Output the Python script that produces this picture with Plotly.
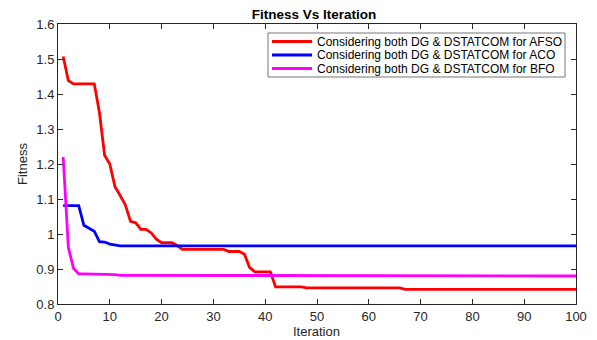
import plotly.graph_objects as go

iterations = list(range(1, 101))

afso_points = {1: 1.507, 2: 1.438, 3: 1.429, 4: 1.429, 5: 1.429, 6: 1.429, 7: 1.429,
               8: 1.347, 9: 1.225, 10: 1.200, 11: 1.135, 12: 1.110, 13: 1.083,
               14: 1.036, 15: 1.032, 16: 1.013, 17: 1.013, 18: 1.003, 19: 0.985,
               20: 0.975, 21: 0.975, 22: 0.975, 23: 0.967, 24: 0.956}
afso_tail = [(25, 32, 0.956), (33, 35, 0.950), (36, 36, 0.942), (37, 37, 0.904),
             (38, 41, 0.892), (42, 47, 0.849), (48, 66, 0.846), (67, 100, 0.842)]

aco_points = {1: 1.081, 2: 1.081, 3: 1.081, 4: 1.081, 5: 1.025, 6: 1.016, 7: 1.008,
              8: 0.978, 9: 0.977, 10: 0.971, 11: 0.968}
aco_tail = [(12, 100, 0.966)]

bfo_points = {1: 1.220, 2: 0.961, 3: 0.902}
bfo_tail = [(4, 9, 0.886), (10, 11, 0.884), (12, 47, 0.882), (48, 100, 0.880)]


def build(points, tail):
    vals = dict(points)
    for a, b, v in tail:
        for i in range(a, b + 1):
            vals[i] = v
    return [vals[i] for i in iterations]


afso = build(afso_points, afso_tail)
aco = build(aco_points, aco_tail)
bfo = build(bfo_points, bfo_tail)

series_names = ["Considering both DG & DSTATCOM for AFSO",
                "Considering both DG & DSTATCOM for ACO",
                "Considering both DG & DSTATCOM for BFO"]
series_colors = ["#FF0000", "#0000FF", "#FF00FF"]

x_ticks = [0, 10, 20, 30, 40, 50, 60, 70, 80, 90, 100]
y_ticks = [0.8, 0.9, 1.0, 1.1, 1.2, 1.3, 1.4, 1.5, 1.6]
y_ticktext = ["0.8", "0.9", "1", "1.1", "1.2", "1.3", "1.4", "1.5", "1.6"]

fig = go.Figure()
for name, ys, col in zip(series_names, [afso, aco, bfo], series_colors):
    fig.add_trace(go.Scatter(x=iterations, y=ys, mode="lines", name=name,
                             line=dict(color=col, width=2.8), showlegend=False))

# Compact legend box (MATLAB style), placed in paper coordinates
W, H = 597, 340
ML, MR, MT, MB = 58, 21, 24, 36
pw, ph = W - ML - MR, H - MT - MB


def px_x(p):
    return (p - ML) / pw


def px_y(p):
    return (H - MB - p) / ph


legend_box = dict(left=268, right=565, top=33, bottom=77)
row_y = [41.5, 55, 68.5]
fig.add_shape(type="rect", xref="paper", yref="paper",
              x0=px_x(legend_box["left"]), x1=px_x(legend_box["right"]),
              y0=px_y(legend_box["bottom"]), y1=px_y(legend_box["top"]),
              line=dict(color="#777777", width=1), fillcolor="white", layer="above")
for name, col, ry in zip(series_names, series_colors, row_y):
    fig.add_shape(type="line", xref="paper", yref="paper",
                  x0=px_x(272), x1=px_x(312), y0=px_y(ry), y1=px_y(ry),
                  line=dict(color=col, width=2.8), layer="above")
    fig.add_annotation(text=name, xref="paper", yref="paper", x=px_x(315), y=px_y(ry),
                       xanchor="left", yanchor="middle", showarrow=False,
                       font=dict(size=12, color="black"))

# x-axis title placed like the reference (just below the tick labels)
fig.add_annotation(text="Iteration", xref="paper", yref="paper",
                   x=px_x(316), y=px_y(339.5), xanchor="center", yanchor="bottom",
                   showarrow=False, borderpad=0,
                   font=dict(size=13, color="#262626"))

axis_common = dict(showgrid=False, zeroline=False, showline=True, linecolor="#262626",
                   linewidth=1, mirror="ticks", ticks="inside", ticklen=5,
                   tickcolor="#262626", tickfont=dict(size=13, color="#262626"))

fig.update_layout(
    width=W, height=H,
    margin=dict(l=ML, r=MR, t=MT, b=MB),
    paper_bgcolor="white", plot_bgcolor="white",
    font=dict(family="Liberation Sans, Arial, sans-serif", size=12, color="#262626"),
    title=dict(text="<b>Fitness Vs Iteration</b>", x=px_x(314), xref="paper",
               xanchor="center", y=1 - 14 / H, yanchor="middle",
               font=dict(size=13.5, color="black")),
    xaxis=dict(range=[0, 100], tickvals=x_ticks, automargin=False, **axis_common),
    yaxis=dict(range=[0.8, 1.6], tickvals=y_ticks, ticktext=y_ticktext,
               title=dict(text="Fitness", standoff=5, font=dict(size=13)),
               automargin=False, **axis_common),
    showlegend=False,
)

fig.write_html("out.html")
